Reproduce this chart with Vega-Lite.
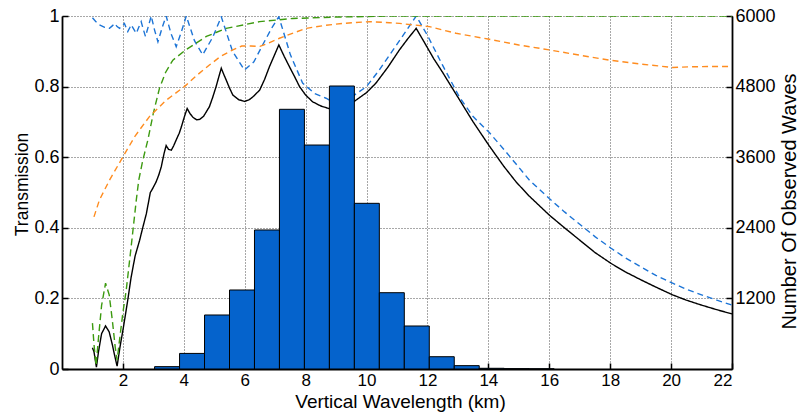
{
  "$schema": "https://vega.github.io/schema/vega-lite/v6.json",
  "width": 670,
  "height": 353,
  "autosize": "none",
  "padding": {"left": 62, "top": 16, "right": 66, "bottom": 45},
  "config": {
    "view": {"stroke": null},
    "font": "Liberation Sans",
    "axis": {
      "labelFont": "Liberation Sans",
      "titleFont": "Liberation Sans",
      "labelColor": "#000",
      "titleColor": "#000",
      "labelFontSize": 18,
      "titleFontSize": 19,
      "titleFontWeight": "normal",
      "domainColor": "#000",
      "domainWidth": 1.8,
      "tickColor": "#000",
      "tickWidth": 1.5,
      "tickSize": -6,
      "gridColor": "#333",
      "gridDash": [1, 2],
      "gridWidth": 1,
      "gridOpacity": 0.85
    }
  },
  "datasets": {
    "curves": [
      {"series": "black", "x": 1.0, "y": 0.06},
      {"series": "black", "x": 1.05, "y": 0.049},
      {"series": "black", "x": 1.13, "y": 0.005},
      {"series": "black", "x": 1.2, "y": 0.05},
      {"series": "black", "x": 1.3, "y": 0.1},
      {"series": "black", "x": 1.43, "y": 0.122},
      {"series": "black", "x": 1.55, "y": 0.105},
      {"series": "black", "x": 1.65, "y": 0.07},
      {"series": "black", "x": 1.75, "y": 0.03},
      {"series": "black", "x": 1.81, "y": 0.008},
      {"series": "black", "x": 1.9, "y": 0.06},
      {"series": "black", "x": 2.02, "y": 0.12},
      {"series": "black", "x": 2.15, "y": 0.19},
      {"series": "black", "x": 2.27, "y": 0.26},
      {"series": "black", "x": 2.4, "y": 0.32},
      {"series": "black", "x": 2.55, "y": 0.365},
      {"series": "black", "x": 2.65, "y": 0.4},
      {"series": "black", "x": 2.77, "y": 0.44},
      {"series": "black", "x": 2.9, "y": 0.5},
      {"series": "black", "x": 2.97, "y": 0.51},
      {"series": "black", "x": 3.09, "y": 0.53},
      {"series": "black", "x": 3.18, "y": 0.55},
      {"series": "black", "x": 3.26, "y": 0.573},
      {"series": "black", "x": 3.35, "y": 0.61},
      {"series": "black", "x": 3.42, "y": 0.633},
      {"series": "black", "x": 3.5, "y": 0.622},
      {"series": "black", "x": 3.59, "y": 0.62},
      {"series": "black", "x": 3.67, "y": 0.633},
      {"series": "black", "x": 3.75, "y": 0.649},
      {"series": "black", "x": 3.85, "y": 0.668},
      {"series": "black", "x": 3.92, "y": 0.686},
      {"series": "black", "x": 4.02, "y": 0.715},
      {"series": "black", "x": 4.11, "y": 0.738},
      {"series": "black", "x": 4.2, "y": 0.724},
      {"series": "black", "x": 4.3, "y": 0.713},
      {"series": "black", "x": 4.42, "y": 0.706},
      {"series": "black", "x": 4.52, "y": 0.707},
      {"series": "black", "x": 4.65, "y": 0.716},
      {"series": "black", "x": 4.84, "y": 0.743},
      {"series": "black", "x": 4.95, "y": 0.77},
      {"series": "black", "x": 5.06, "y": 0.8},
      {"series": "black", "x": 5.15, "y": 0.828},
      {"series": "black", "x": 5.23, "y": 0.852},
      {"series": "black", "x": 5.31, "y": 0.835},
      {"series": "black", "x": 5.39, "y": 0.819},
      {"series": "black", "x": 5.5, "y": 0.796},
      {"series": "black", "x": 5.61, "y": 0.776},
      {"series": "black", "x": 5.8, "y": 0.763},
      {"series": "black", "x": 6.0, "y": 0.758},
      {"series": "black", "x": 6.15, "y": 0.763},
      {"series": "black", "x": 6.27, "y": 0.771},
      {"series": "black", "x": 6.49, "y": 0.79},
      {"series": "black", "x": 6.65, "y": 0.82},
      {"series": "black", "x": 6.81, "y": 0.856},
      {"series": "black", "x": 6.97, "y": 0.888},
      {"series": "black", "x": 7.12, "y": 0.918},
      {"series": "black", "x": 7.3, "y": 0.885},
      {"series": "black", "x": 7.47, "y": 0.856},
      {"series": "black", "x": 7.65, "y": 0.826},
      {"series": "black", "x": 7.8, "y": 0.8},
      {"series": "black", "x": 8.0, "y": 0.776},
      {"series": "black", "x": 8.23, "y": 0.757},
      {"series": "black", "x": 8.5, "y": 0.745},
      {"series": "black", "x": 8.76, "y": 0.738},
      {"series": "black", "x": 9.0, "y": 0.735},
      {"series": "black", "x": 9.2, "y": 0.738},
      {"series": "black", "x": 9.4, "y": 0.746},
      {"series": "black", "x": 9.66, "y": 0.762},
      {"series": "black", "x": 10.0, "y": 0.783},
      {"series": "black", "x": 10.31, "y": 0.81},
      {"series": "black", "x": 10.7, "y": 0.855},
      {"series": "black", "x": 11.08, "y": 0.904},
      {"series": "black", "x": 11.35, "y": 0.935},
      {"series": "black", "x": 11.63, "y": 0.965},
      {"series": "black", "x": 11.9, "y": 0.925},
      {"series": "black", "x": 12.2, "y": 0.88},
      {"series": "black", "x": 12.5, "y": 0.84},
      {"series": "black", "x": 12.72, "y": 0.809},
      {"series": "black", "x": 13.0, "y": 0.77},
      {"series": "black", "x": 13.5, "y": 0.7},
      {"series": "black", "x": 14.03, "y": 0.632},
      {"series": "black", "x": 14.5, "y": 0.575},
      {"series": "black", "x": 14.91, "y": 0.53},
      {"series": "black", "x": 15.34, "y": 0.49},
      {"series": "black", "x": 16.0, "y": 0.436},
      {"series": "black", "x": 16.5, "y": 0.4},
      {"series": "black", "x": 17.0, "y": 0.365},
      {"series": "black", "x": 17.5, "y": 0.33},
      {"series": "black", "x": 18.03, "y": 0.299},
      {"series": "black", "x": 18.5, "y": 0.275},
      {"series": "black", "x": 19.0, "y": 0.253},
      {"series": "black", "x": 19.5, "y": 0.232},
      {"series": "black", "x": 20.05, "y": 0.21},
      {"series": "black", "x": 20.5, "y": 0.195},
      {"series": "black", "x": 21.0, "y": 0.181},
      {"series": "black", "x": 21.5, "y": 0.168},
      {"series": "black", "x": 22.0, "y": 0.156},

      {"series": "blue", "x": 1.0, "y": 0.995},
      {"series": "blue", "x": 1.1, "y": 0.985},
      {"series": "blue", "x": 1.23, "y": 0.975},
      {"series": "blue", "x": 1.4, "y": 0.968},
      {"series": "blue", "x": 1.56, "y": 0.965},
      {"series": "blue", "x": 1.65, "y": 0.972},
      {"series": "blue", "x": 1.73, "y": 0.979},
      {"series": "blue", "x": 1.81, "y": 0.97},
      {"series": "blue", "x": 1.89, "y": 0.965},
      {"series": "blue", "x": 1.97, "y": 0.972},
      {"series": "blue", "x": 2.05, "y": 0.979},
      {"series": "blue", "x": 2.1, "y": 0.968},
      {"series": "blue", "x": 2.16, "y": 0.956},
      {"series": "blue", "x": 2.22, "y": 0.966},
      {"series": "blue", "x": 2.27, "y": 0.975},
      {"series": "blue", "x": 2.36, "y": 0.962},
      {"series": "blue", "x": 2.44, "y": 0.951},
      {"series": "blue", "x": 2.52, "y": 0.968},
      {"series": "blue", "x": 2.6, "y": 0.984},
      {"series": "blue", "x": 2.67, "y": 0.962},
      {"series": "blue", "x": 2.74, "y": 0.942},
      {"series": "blue", "x": 2.84, "y": 0.972},
      {"series": "blue", "x": 2.93, "y": 1.0},
      {"series": "blue", "x": 3.04, "y": 0.96},
      {"series": "blue", "x": 3.15, "y": 0.927},
      {"series": "blue", "x": 3.3, "y": 0.97},
      {"series": "blue", "x": 3.42, "y": 1.0},
      {"series": "blue", "x": 3.58, "y": 0.95},
      {"series": "blue", "x": 3.75, "y": 0.913},
      {"series": "blue", "x": 3.92, "y": 0.955},
      {"series": "blue", "x": 4.08, "y": 1.0},
      {"series": "blue", "x": 4.35, "y": 0.93},
      {"series": "blue", "x": 4.62, "y": 0.89},
      {"series": "blue", "x": 4.95, "y": 0.94},
      {"series": "blue", "x": 5.23, "y": 0.998},
      {"series": "blue", "x": 5.6, "y": 0.9},
      {"series": "blue", "x": 5.99, "y": 0.847},
      {"series": "blue", "x": 6.3, "y": 0.87},
      {"series": "blue", "x": 6.6, "y": 0.92},
      {"series": "blue", "x": 6.9, "y": 0.968},
      {"series": "blue", "x": 7.12, "y": 0.998},
      {"series": "blue", "x": 7.5, "y": 0.89},
      {"series": "blue", "x": 7.9, "y": 0.81},
      {"series": "blue", "x": 8.3, "y": 0.78},
      {"series": "blue", "x": 8.67, "y": 0.767},
      {"series": "blue", "x": 9.0, "y": 0.752},
      {"series": "blue", "x": 9.3, "y": 0.758},
      {"series": "blue", "x": 9.6, "y": 0.776},
      {"series": "blue", "x": 10.0, "y": 0.8},
      {"series": "blue", "x": 10.4, "y": 0.845},
      {"series": "blue", "x": 10.8, "y": 0.895},
      {"series": "blue", "x": 11.2, "y": 0.945},
      {"series": "blue", "x": 11.63, "y": 1.0},
      {"series": "blue", "x": 12.0, "y": 0.945},
      {"series": "blue", "x": 12.5, "y": 0.86},
      {"series": "blue", "x": 13.05, "y": 0.77},
      {"series": "blue", "x": 13.5, "y": 0.715},
      {"series": "blue", "x": 14.03, "y": 0.67},
      {"series": "blue", "x": 14.53, "y": 0.62},
      {"series": "blue", "x": 15.35, "y": 0.535},
      {"series": "blue", "x": 16.0, "y": 0.483},
      {"series": "blue", "x": 16.5, "y": 0.445},
      {"series": "blue", "x": 17.0, "y": 0.41},
      {"series": "blue", "x": 17.5, "y": 0.375},
      {"series": "blue", "x": 18.03, "y": 0.342},
      {"series": "blue", "x": 18.5, "y": 0.315},
      {"series": "blue", "x": 19.0, "y": 0.29},
      {"series": "blue", "x": 19.5, "y": 0.265},
      {"series": "blue", "x": 20.05, "y": 0.243},
      {"series": "blue", "x": 20.5, "y": 0.226},
      {"series": "blue", "x": 21.0, "y": 0.21},
      {"series": "blue", "x": 21.5, "y": 0.195},
      {"series": "blue", "x": 22.0, "y": 0.181},

      {"series": "green", "x": 1.0, "y": 0.13},
      {"series": "green", "x": 1.05, "y": 0.07},
      {"series": "green", "x": 1.12, "y": 0.01},
      {"series": "green", "x": 1.2, "y": 0.09},
      {"series": "green", "x": 1.3, "y": 0.18},
      {"series": "green", "x": 1.43, "y": 0.243},
      {"series": "green", "x": 1.55, "y": 0.21},
      {"series": "green", "x": 1.65, "y": 0.14},
      {"series": "green", "x": 1.75, "y": 0.06},
      {"series": "green", "x": 1.81, "y": 0.025},
      {"series": "green", "x": 1.9, "y": 0.09},
      {"series": "green", "x": 2.0, "y": 0.16},
      {"series": "green", "x": 2.11, "y": 0.224},
      {"series": "green", "x": 2.27, "y": 0.346},
      {"series": "green", "x": 2.44, "y": 0.479},
      {"series": "green", "x": 2.52, "y": 0.535},
      {"series": "green", "x": 2.65, "y": 0.59},
      {"series": "green", "x": 2.82, "y": 0.649},
      {"series": "green", "x": 3.0, "y": 0.725},
      {"series": "green", "x": 3.2, "y": 0.795},
      {"series": "green", "x": 3.4, "y": 0.84},
      {"series": "green", "x": 3.64, "y": 0.875},
      {"series": "green", "x": 4.08, "y": 0.905},
      {"series": "green", "x": 4.74, "y": 0.942},
      {"series": "green", "x": 5.39, "y": 0.965},
      {"series": "green", "x": 6.49, "y": 0.984},
      {"series": "green", "x": 7.58, "y": 0.993},
      {"series": "green", "x": 9.0, "y": 0.997},
      {"series": "green", "x": 10.87, "y": 1.0},
      {"series": "green", "x": 22.0, "y": 1.0},

      {"series": "orange", "x": 1.05, "y": 0.431},
      {"series": "orange", "x": 1.23, "y": 0.479},
      {"series": "orange", "x": 1.56, "y": 0.535},
      {"series": "orange", "x": 2.0, "y": 0.601},
      {"series": "orange", "x": 2.4, "y": 0.66},
      {"series": "orange", "x": 2.87, "y": 0.715},
      {"series": "orange", "x": 3.4, "y": 0.76},
      {"series": "orange", "x": 4.02, "y": 0.8},
      {"series": "orange", "x": 4.4, "y": 0.83},
      {"series": "orange", "x": 4.84, "y": 0.861},
      {"series": "orange", "x": 5.2, "y": 0.885},
      {"series": "orange", "x": 5.61, "y": 0.904},
      {"series": "orange", "x": 5.9, "y": 0.915},
      {"series": "orange", "x": 6.2, "y": 0.915},
      {"series": "orange", "x": 6.5, "y": 0.914},
      {"series": "orange", "x": 6.8, "y": 0.924},
      {"series": "orange", "x": 7.14, "y": 0.937},
      {"series": "orange", "x": 7.6, "y": 0.952},
      {"series": "orange", "x": 8.02, "y": 0.965},
      {"series": "orange", "x": 8.6, "y": 0.973},
      {"series": "orange", "x": 9.22, "y": 0.979},
      {"series": "orange", "x": 10.09, "y": 0.984},
      {"series": "orange", "x": 10.75, "y": 0.981},
      {"series": "orange", "x": 11.08, "y": 0.979},
      {"series": "orange", "x": 12.06, "y": 0.97},
      {"series": "orange", "x": 12.94, "y": 0.951},
      {"series": "orange", "x": 14.03, "y": 0.934},
      {"series": "orange", "x": 15.0, "y": 0.918},
      {"series": "orange", "x": 16.0, "y": 0.904},
      {"series": "orange", "x": 17.0, "y": 0.889},
      {"series": "orange", "x": 17.97, "y": 0.875},
      {"series": "orange", "x": 19.0, "y": 0.864},
      {"series": "orange", "x": 20.06, "y": 0.854},
      {"series": "orange", "x": 20.6, "y": 0.856},
      {"series": "orange", "x": 21.3, "y": 0.857},
      {"series": "orange", "x": 22.0, "y": 0.857}
    ],
    "bars": [
      {"start": 3.04, "end": 3.86, "count": 40},
      {"start": 3.86, "end": 4.68, "count": 265},
      {"start": 4.68, "end": 5.5, "count": 918},
      {"start": 5.5, "end": 6.32, "count": 1343},
      {"start": 6.32, "end": 7.14, "count": 2363},
      {"start": 7.14, "end": 7.96, "count": 4414},
      {"start": 7.96, "end": 8.78, "count": 3807},
      {"start": 8.78, "end": 9.6, "count": 4810},
      {"start": 9.6, "end": 10.42, "count": 2816},
      {"start": 10.42, "end": 11.24, "count": 1297},
      {"start": 11.24, "end": 12.06, "count": 731},
      {"start": 12.06, "end": 12.88, "count": 209},
      {"start": 12.88, "end": 13.7, "count": 57},
      {"start": 13.7, "end": 14.52, "count": 12},
      {"start": 14.52, "end": 15.34, "count": 6},
      {"start": 15.34, "end": 16.16, "count": 3}
    ]
  },
  "layer": [
    {
      "data": {"name": "curves"},
      "mark": {"type": "line", "strokeWidth": 1.4, "clip": true},
      "encoding": {
        "x": {
          "field": "x", "type": "quantitative",
          "scale": {"domain": [0, 22], "nice": false, "zero": false},
          "axis": {
            "title": "Vertical Wavelength (km)",
            "values": [2, 4, 6, 8, 10, 12, 14, 16, 18, 20, 22],
            "format": "d",
            "grid": true,
            "labelFontSize": 17,
            "labelPadding": 9,
            "titleFontSize": 19,
            "titleX": 338,
            "titleY": 38.5,
            "titleAlign": "center",
            "titleBaseline": "alphabetic"
          }
        },
        "y": {
          "field": "y", "type": "quantitative",
          "scale": {"domain": [0, 1], "nice": false},
          "axis": {
            "orient": "left",
            "title": "Transmission",
            "values": [0, 0.2, 0.4, 0.6, 0.8, 1],
            "format": "~g",
            "grid": true,
            "labelPadding": 9,
            "titleFontSize": 17.5,
            "titleAngle": 270,
            "titleX": -40,
            "titleY": 168,
            "titleAlign": "center",
            "titleBaseline": "middle"
          }
        },
        "color": {
          "field": "series", "type": "nominal",
          "scale": {"domain": ["orange", "green", "blue", "black"], "range": ["#ff8c1f", "#3c9a10", "#1c74d6", "#000000"]},
          "legend": null
        },
        "strokeDash": {
          "field": "series", "type": "nominal",
          "scale": {"domain": ["orange", "green", "blue", "black"], "range": [[6, 4], [7, 4], [6, 4], [1, 0]]},
          "legend": null
        },
        "order": {"field": "x", "type": "quantitative"}
      }
    },
    {
      "data": {"name": "bars"},
      "mark": {"type": "rect", "color": "#0563cc", "stroke": "#000", "strokeWidth": 1},
      "encoding": {
        "x": {"field": "start", "type": "quantitative"},
        "x2": {"field": "end"},
        "y": {
          "field": "count", "type": "quantitative",
          "scale": {"domain": [0, 6000], "nice": false},
          "axis": {
            "orient": "right",
            "title": "Number Of Observed Waves",
            "values": [1200, 2400, 3600, 4800, 6000],
            "format": "d",
            "grid": false,
            "labelPadding": 9,
            "titleFontSize": 20,
            "titleAngle": 270,
            "titleX": 57,
            "titleY": 185,
            "titleAlign": "center",
            "titleBaseline": "middle"
          }
        },
        "y2": {"datum": 0}
      }
    }
  ],
  "resolve": {"scale": {"y": "independent", "color": "independent", "strokeDash": "independent"}}
}
